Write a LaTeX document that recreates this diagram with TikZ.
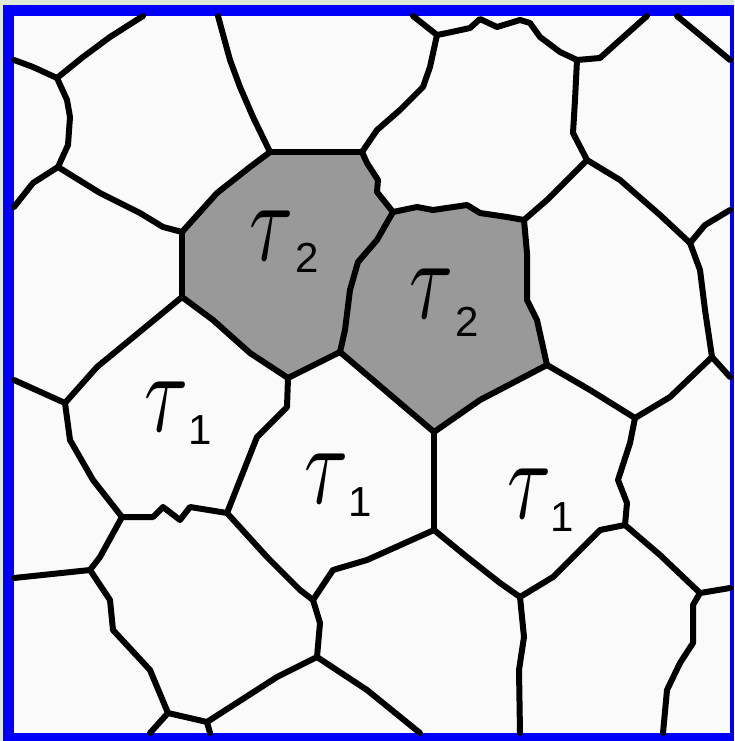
\documentclass[tikz,border=0pt]{standalone}
\usepackage{graphicx}
\usepackage{fontspec}
\newfontfamily\subf{Liberation Sans}
\definecolor{bgGreen}{RGB}{222,232,214}
\definecolor{frameBlue}{RGB}{0,0,250}
\definecolor{cellGray}{RGB}{153,153,153}
\definecolor{paper}{RGB}{250,250,250}
\newcommand{\bigtau}{\scalebox{8}[11.5]{$\tau$}}
\tikzset{
  wall/.style={line width=6pt, line join=round, line cap=round, black},
  tau/.style={anchor=base, inner sep=0pt},
  idx/.style={anchor=base west, inner sep=0pt, font=\subf\fontsize{42}{42}\selectfont},
}
\begin{document}
\begin{tikzpicture}[x=1pt,y=-1pt]
\useasboundingbox (0,0) rectangle (734,741);
\fill[bgGreen] (0,0) rectangle (734,741);
\fill[frameBlue] (3,5) rectangle (734,741);
\fill[paper] (14,16) rectangle (730,733);
% vertices
\coordinate (A) at (57,78);
\coordinate (B) at (58,167);
\coordinate (C) at (182,232);
\coordinate (D) at (270,152);
\coordinate (E) at (182,297);
\coordinate (F) at (288,378);
\coordinate (G) at (437,35);
\coordinate (H) at (577,60);
\coordinate (J) at (362,152);
\coordinate (K) at (393,212);
\coordinate (L) at (524,220);
\coordinate (M) at (587,160);
\coordinate (N) at (690,243);
\coordinate (NN) at (712,357);
\coordinate (MM) at (547,365);
\coordinate (GG) at (340,352);
\coordinate (P) at (434,432);
\coordinate (Q) at (635,418);
\coordinate (R) at (625,525);
\coordinate (S) at (434,530);
\coordinate (T) at (520,597);
\coordinate (U) at (700,593);
\coordinate (V) at (65,403);
\coordinate (W) at (122,517);
\coordinate (X) at (227,513);
\coordinate (Y) at (313,600);
\coordinate (Z) at (90,570);
\coordinate (AA) at (168,713);
\coordinate (AB) at (317,657);
\coordinate (AC) at (207,722);
% border ends
\coordinate (t1) at (143,16);
\coordinate (t2) at (218,16);
\coordinate (t3) at (413,16);
\coordinate (t4) at (647,16);
\coordinate (t5) at (677,16);
\coordinate (l1) at (14,60);
\coordinate (l2) at (14,207);
\coordinate (l3) at (14,380);
\coordinate (l4) at (14,578);
\coordinate (r1) at (730,60);
\coordinate (r2) at (730,210);
\coordinate (r3) at (730,377);
\coordinate (r4) at (730,588);
\coordinate (b1) at (150,733);
\coordinate (b2) at (210,733);
\coordinate (b3) at (420,733);
\coordinate (b4) at (520,733);
\coordinate (b5) at (663,733);
% gray cells
\fill[cellGray] (D) -- (J) -- (367,163) -- (378,180) -- (377,192) -- (K) -- (377,240) -- (358,262) -- (350,290) -- (345,330) -- (GG) -- (F) -- (250,353) -- (213,320) -- (E) -- (C) -- (217,193) -- (250,167) -- cycle;
\fill[cellGray] (K) -- (417,207) -- (433,210) -- (467,205) -- (480,213) -- (507,217) -- (L) -- (527,253) -- (527,300) -- (537,320) -- (MM) -- (480,400) -- (P) -- (GG) -- (345,330) -- (350,290) -- (358,262) -- (377,240) -- cycle;
% walls
\draw[wall] (t1) -- (110,37) -- (83,57) -- (A);
\draw[wall] (l1) -- (33,67) -- (A);
\draw[wall] (A) -- (67,100) -- (70,117) -- (68,145) -- (B);
\draw[wall] (l2) -- (33,183) -- (B);
\draw[wall] (B) -- (100,193) -- (140,213) -- (163,227) -- (C);
\draw[wall] (C) -- (217,193) -- (250,167) -- (D);
\draw[wall] (D) -- (253,117) -- (240,87) -- (230,60) -- (t2);
\draw[wall] (D) -- (J);
\draw[wall] (C) -- (E);
\draw[wall] (E) -- (213,320) -- (250,353) -- (F);
\draw[wall] (F) -- (GG);
\draw[wall] (GG) -- (345,330) -- (350,290) -- (358,262) -- (377,240) -- (K);
\draw[wall] (GG) -- (P);
\draw[wall] (P) -- (480,400) -- (MM);
\draw[wall] (MM) -- (537,320) -- (527,300) -- (527,253) -- (L);
\draw[wall] (K) -- (417,207) -- (433,210) -- (467,205) -- (480,213) -- (507,217) -- (L);
\draw[wall] (J) -- (367,163) -- (378,180) -- (377,192) -- (K);
\draw[wall] (J) -- (377,130) -- (400,110) -- (423,87) -- (430,67) -- (G);
\draw[wall] (t3) -- (G);
\draw[wall] (G) -- (447,33) -- (470,28) -- (480,19) -- (497,27) -- (520,20) -- (530,23) -- (540,37) -- (560,52) -- (H);
\draw[wall] (H) -- (600,58) -- (620,40) -- (t4);
\draw[wall] (t5) -- (700,35) -- (r1);
\draw[wall] (H) -- (575,100) -- (573,133) -- (M);
\draw[wall] (L) -- (547,200) -- (567,180) -- (M);
\draw[wall] (M) -- (620,180) -- (660,215) -- (N);
\draw[wall] (N) -- (705,225) -- (r2);
\draw[wall] (N) -- (700,270) -- (705,310) -- (NN);
\draw[wall] (NN) -- (r3);
\draw[wall] (NN) -- (670,397) -- (Q);
\draw[wall] (Q) -- (590,390) -- (MM);
\draw[wall] (Q) -- (630,443) -- (618,480) -- (627,503) -- (R);
\draw[wall] (R) -- (600,530) -- (553,577) -- (T);
\draw[wall] (R) -- (660,555) -- (U);
\draw[wall] (U) -- (r4);
\draw[wall] (U) -- (693,605) -- (693,643) -- (680,663) -- (667,690) -- (b5);
\draw[wall] (T) -- (524,637) -- (519,670) -- (b4);
\draw[wall] (T) -- (500,583) -- (467,557) -- (S);
\draw[wall] (S) -- (P);
\draw[wall] (S) -- (367,560) -- (333,570) -- (Y);
\draw[wall] (Y) -- (300,590) -- (267,557) -- (X);
\draw[wall] (Y) -- (320,623) -- (AB);
\draw[wall] (AB) -- (367,690) -- (b3);
\draw[wall] (AB) -- (277,677) -- (AC);
\draw[wall] (AC) -- (b2);
\draw[wall] (AC) -- (AA);
\draw[wall] (AA) -- (b1);
\draw[wall] (AA) -- (150,670) -- (113,630) -- (110,600) -- (Z);
\draw[wall] (Z) -- (l4);
\draw[wall] (Z) -- (100,557) -- (W);
\draw[wall] (W) -- (153,517) -- (163,507) -- (180,520) -- (190,507) -- (X);
\draw[wall] (W) -- (93,480) -- (70,440) -- (V);
\draw[wall] (V) -- (l3);
\draw[wall] (V) -- (97,367) -- (E);
\draw[wall] (X) -- (257,437) -- (287,407) -- (F);
% labels
\node[tau] (s1) at (272,260) {\bigtau};
\node[idx] (s1i) at (295,272) {2};
\node[tau] (s2) at (432,318) {\bigtau};
\node[idx] (s2i) at (455,336) {2};
\node[tau] (s3) at (167,431) {\bigtau};
\node[idx] (s3i) at (188,444) {1};
\node[tau] (s4) at (327,503) {\bigtau};
\node[idx] (s4i) at (348,516) {1};
\node[tau] (s5) at (530,518) {\bigtau};
\node[idx] (s5i) at (550,531) {1};
\end{tikzpicture}
\end{document}
